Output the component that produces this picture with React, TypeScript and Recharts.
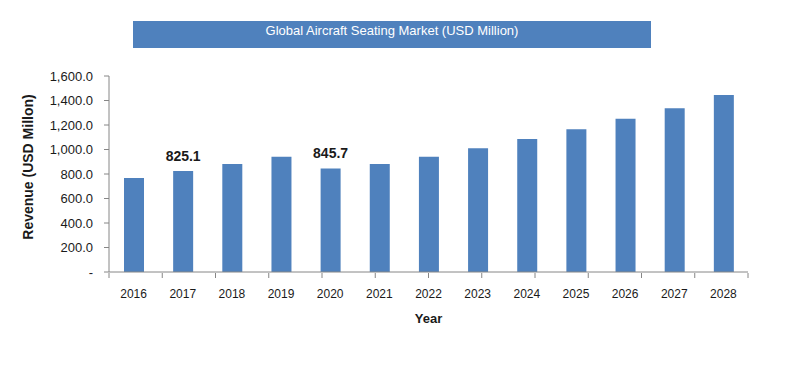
import React from 'react';
import { BarChart, Bar, XAxis, YAxis, LabelList } from 'recharts';

const years = ['2016', '2017', '2018', '2019', '2020', '2021', '2022', '2023', '2024', '2025', '2026', '2027', '2028'];
const revenue = [767, 825.1, 882, 941, 845.7, 882, 941, 1010, 1086, 1165, 1252, 1336, 1445];
const labelledYears = ['2017', '2020'];
const yTicks = [0, 200, 400, 600, 800, 1000, 1200, 1400, 1600];
const edgeTicks = [0, 1, 2, 3, 4, 5, 6, 7, 8, 9, 10, 11, 12, 13];

const data = years.map((year, i) => ({
  year,
  revenue: revenue[i],
  label: labelledYears.includes(year) ? revenue[i].toFixed(1) : '',
}));

const FONT = '"Liberation Sans", Arial, sans-serif';
const AXIS_COLOR = '#868686';
const BAR_COLOR = '#4F81BD';

const formatY = (v: number) =>
  v === 0 ? '-' : v.toLocaleString('en-US', { minimumFractionDigits: 1, maximumFractionDigits: 1 });

// only a couple of bars carry a value label
const ValueLabel = (props: any) => {
  const { x, y, width, value } = props;
  if (!value) return null;
  return (
    <text x={x + width / 2} y={y - 10} textAnchor="middle" fontFamily={FONT} fontSize={14} fontWeight="bold" fill="#1a1a1a">
      {value}
    </text>
  );
};

export default function App() {
  return (
    <div style={{ position: 'absolute', left: 0, top: 0, width: 799, height: 365, background: '#fff', fontFamily: FONT }}>
      {/* title band */}
      <div
        style={{
          position: 'absolute',
          left: 133,
          top: 21,
          width: 518,
          height: 27,
          background: BAR_COLOR,
          color: '#fff',
          fontSize: 13,
          textAlign: 'center',
          lineHeight: '20px',
          boxSizing: 'border-box',
        }}
      >
        Global Aircraft Seating Market (USD Million)
      </div>
      <BarChart width={799} height={365} data={data} margin={{ top: 76, right: 51, left: 0, bottom: 63 }} barSize={20}>
        <XAxis
          xAxisId="cat"
          dataKey="year"
          axisLine={{ stroke: AXIS_COLOR }}
          tickLine={false}
          tick={{ fontSize: 12, fill: '#1a1a1a', fontFamily: FONT }}
          tickMargin={11}
          height={1}
          interval={0}
          label={{ value: 'Year', position: 'insideBottom', offset: -50, fontSize: 13, fontWeight: 'bold', fill: '#1a1a1a', fontFamily: FONT }}
        />
        {/* tick marks between categories, like the spreadsheet axis */}
        <XAxis
          xAxisId="edges"
          type="number"
          domain={[0, 13]}
          ticks={edgeTicks}
          axisLine={false}
          tickLine={{ stroke: AXIS_COLOR }}
          tickSize={5}
          tickFormatter={() => ''}
          height={29}
        />
        <YAxis
          domain={[0, 1600]}
          ticks={yTicks}
          width={109}
          axisLine={{ stroke: AXIS_COLOR }}
          tickLine={{ stroke: AXIS_COLOR }}
          tickSize={5}
          tickMargin={11}
          tickFormatter={formatY}
          tick={{ fontSize: 13, fill: '#1a1a1a', fontFamily: FONT }}
          label={{
            value: 'Revenue (USD Millon)',
            angle: -90,
            position: 'center',
            dx: -26,
            dy: -7,
            fontSize: 14,
            fontWeight: 'bold',
            fill: '#1a1a1a',
            fontFamily: FONT,
          }}
        />
        <Bar xAxisId="cat" dataKey="revenue" fill={BAR_COLOR} isAnimationActive={false}>
          <LabelList dataKey="label" content={ValueLabel} />
        </Bar>
      </BarChart>
    </div>
  );
}
